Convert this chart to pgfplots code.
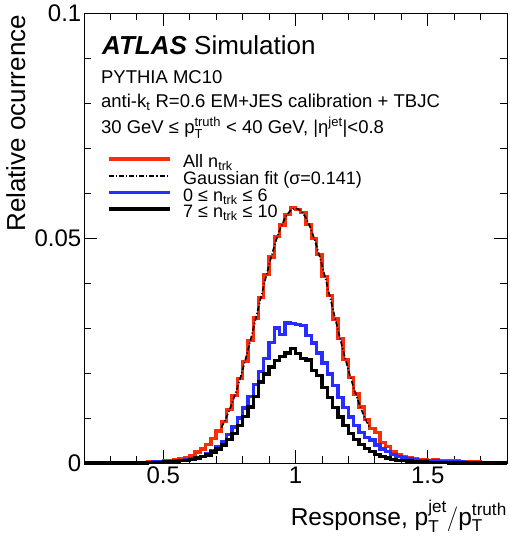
\documentclass[border=0pt]{standalone}
\usepackage{fontspec}
\setmainfont{Liberation Sans}
\usepackage{amsmath}
\usepackage{pgfplots}
\usepackage{pgfplotstable}
\pgfplotsset{compat=1.18}
\definecolor{hred}{RGB}{250,45,10}
\definecolor{hblue}{RGB}{40,45,255}

\pgfplotstableread{
x red blue black
0.20 0 0 0
0.22 0 0 0
0.24 0 0 0
0.26 0 0 0
0.28 0 0 0
0.30 0 0 0
0.32 0 0 0
0.34 0 0 0
0.36 0 0 0
0.38 0 0 0
0.40 0.0001 0.0001 0
0.42 0.0001 0.0001 0
0.44 0.0002 0.0001 0.0001
0.46 0.0002 0.0002 0.0001
0.48 0.0003 0.0002 0.0001
0.50 0.0004 0.0003 0.0002
0.52 0.0005 0.0003 0.0002
0.54 0.0007 0.0004 0.0003
0.56 0.0009 0.0005 0.0005
0.58 0.0012 0.0007 0.0006
0.60 0.0017 0.0009 0.0008
0.62 0.0024 0.0012 0.0011
0.64 0.0031 0.0015 0.0014
0.66 0.0041 0.0020 0.0018
0.68 0.0054 0.0027 0.0024
0.70 0.0071 0.0036 0.0031
0.72 0.0092 0.0048 0.0040
0.74 0.0119 0.0063 0.0052
0.76 0.0150 0.0080 0.0066
0.78 0.0188 0.0100 0.0083
0.80 0.0226 0.0122 0.0103
0.82 0.0272 0.0148 0.0124
0.84 0.0322 0.0174 0.0148
0.86 0.0368 0.0203 0.0180
0.88 0.0419 0.0232 0.0198
0.90 0.0458 0.0268 0.0213
0.92 0.0503 0.0300 0.0228
0.94 0.0529 0.0286 0.0236
0.96 0.0552 0.0311 0.0244
0.98 0.0568 0.0310 0.0255
1.00 0.0563 0.0308 0.0243
1.02 0.0556 0.0305 0.0232
1.04 0.0530 0.0283 0.0229
1.06 0.0499 0.0267 0.0205
1.08 0.0463 0.0244 0.0194
1.10 0.0415 0.0222 0.0168
1.12 0.0372 0.0198 0.0146
1.14 0.0320 0.0172 0.0123
1.16 0.0276 0.0146 0.0102
1.18 0.0230 0.0123 0.0083
1.20 0.0190 0.0102 0.0066
1.22 0.0153 0.0083 0.0052
1.24 0.0124 0.0068 0.0041
1.26 0.0097 0.0056 0.0032
1.28 0.0076 0.0051 0.0025
1.30 0.0068 0.0040 0.0019
1.32 0.0046 0.0031 0.0014
1.34 0.0036 0.0025 0.0011
1.36 0.0026 0.0019 0.0008
1.38 0.0018 0.0014 0.0006
1.40 0.0015 0.0011 0.0005
1.42 0.0012 0.0009 0.0004
1.44 0.0010 0.0007 0.0003
1.46 0.0008 0.0006 0.0002
1.48 0.0007 0.0005 0.0002
1.50 0.0006 0.0004 0.0001
1.52 0.0007 0.0004 0.0001
1.54 0.0005 0.0003 0.0001
1.56 0.0004 0.0003 0.0001
1.58 0.0005 0.0002 0
1.60 0.0004 0.0002 0
1.62 0.0003 0.0002 0
1.64 0.0003 0.0001 0
1.66 0.0002 0.0001 0
1.68 0.0002 0.0001 0
1.70 0.0001 0 0
1.72 0.0001 0 0
1.74 0.0001 0 0
1.76 0.0001 0 0
1.78 0 0 0
1.80 0 0 0
}\histdata

\begin{document}
\begin{tikzpicture}
\path[use as bounding box] (-84pt,-77pt) rectangle (426pt,463pt);
\begin{axis}[
  at={(0pt,0pt)}, anchor=south west,
  scale only axis, width=423pt, height=450pt,
  xmin=0.2, xmax=1.8, ymin=0, ymax=0.1,
  xtick={0.5,1,1.5}, xticklabels={0.5,1,1.5},
  ytick={0,0.05,0.1}, yticklabels={0,0.05,0.1},
  minor xtick={0.2,0.3,0.4,0.6,0.7,0.8,0.9,1.1,1.2,1.3,1.4,1.6,1.7,1.8},
  minor ytick={0.01,0.02,0.03,0.04,0.06,0.07,0.08,0.09},
  tick align=inside,
  major tick length=13pt, minor tick length=7pt,
  every tick/.style={black, line width=0.8pt},
  axis line style={line width=0.9pt},
  ticklabel style={font=\fontsize{24}{28}\selectfont},
  xticklabel style={inner sep=4pt},
  yticklabel style={inner sep=2.5pt},
  clip=false,
  xlabel={Response, $\text{p}_{\text{T}}^{\text{jet}}/\text{p}_{\text{T}}^{\text{truth}}$},
  xlabel style={at={(rel axis cs:1,-0.1378)}, anchor=base east, font=\fontsize{24.5}{28}\selectfont, inner sep=0pt},
  ylabel={Relative ocurrence},
  ylabel style={at={(rel axis cs:-0.184,0.996)}, anchor=north east, font=\fontsize{26}{30}\selectfont, inner sep=0pt},
  legend style={at={(rel axis cs:0.054,0.684)}, anchor=north west, draw=none, fill=none,
    font=\fontsize{18}{19}\selectfont, row sep=0pt, inner sep=0pt, outer sep=0pt,
    nodes={inner sep=0pt, text height=12.5pt, text depth=4.2pt},
    /tikz/every odd column/.append style={column sep=12pt}},
  legend cell align=left,
  legend image code/.code={\draw[#1] (0pt,4.5pt) -- (61pt,4.5pt);},
]
\addplot[const plot, hred, line width=3.4pt] table[x=x, y=red] {\histdata};
\addlegendentry{All n\textsubscript{trk}}
\addplot[black, line width=1.6pt, dash pattern=on 5pt off 2pt on 1.2pt off 2pt, smooth] coordinates {
(0.72,0.00788)(0.74,0.01034)(0.76,0.01330)(0.78,0.01676)(0.80,0.02070)(0.82,0.02506)(0.84,0.02973)(0.86,0.03457)(0.88,0.03940)(0.90,0.04401)(0.92,0.04819)(0.94,0.05170)(0.96,0.05437)(0.98,0.05603)(1.00,0.05660)(1.02,0.05603)(1.04,0.05437)(1.06,0.05170)(1.08,0.04819)(1.10,0.04401)(1.12,0.03940)(1.14,0.03457)(1.16,0.02973)(1.18,0.02506)(1.20,0.02070)(1.22,0.01676)(1.24,0.01330)(1.26,0.01034)(1.28,0.00788)};
\addlegendentry{Gaussian fit (σ=0.141)}
\addplot[const plot, hblue, line width=3.4pt] table[x=x, y=blue] {\histdata};
\addlegendentry{0 ≤ n\textsubscript{trk} ≤ 6}
\addplot[const plot, black, line width=3.4pt] table[x=x, y=black] {\histdata};
\addlegendentry{7 ≤ n\textsubscript{trk} ≤ 10}
\node[anchor=base west, inner sep=0pt, font=\fontsize{26}{30}\selectfont] at (rel axis cs:0.0426,0.9067) {\textbf{\textit{ATLAS}} Simulation};
\node[anchor=base west, inner sep=0pt, font=\fontsize{18.5}{22}\selectfont] at (rel axis cs:0.040,0.8444) {PYTHIA MC10};
\node[anchor=base west, inner sep=0pt, font=\fontsize{18.5}{22}\selectfont] at (rel axis cs:0.040,0.789) {anti-k\textsubscript{t} R=0.6 EM+JES calibration + TBJC};
\node[anchor=base west, inner sep=0pt, font=\fontsize{18.5}{22}\selectfont] at (rel axis cs:0.040,0.7333) {30 GeV ≤ $\text{p}_{\text{T}}^{\text{truth}}$ < 40 GeV, |η\textsuperscript{jet}|<0.8};
\end{axis}
\end{tikzpicture}
\end{document}
